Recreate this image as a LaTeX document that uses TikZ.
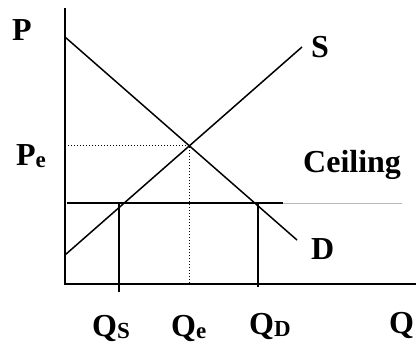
\documentclass[tikz,border=0pt]{standalone}
\usepackage{fontspec}
\setmainfont{Liberation Serif}
\usepackage{tikz}
\newcommand{\lowsub}[1]{\raisebox{-2.5pt}{\fontsize{23}{23}\selectfont #1}}

\begin{document}
\begin{tikzpicture}[
      x=1pt, y=-1pt,
      font=\fontsize{32}{32}\selectfont\bfseries,
      axis/.style={line width=2pt},
      curve/.style={line width=1.5pt},
      guide/.style={line width=1.1pt, dash pattern=on 1pt off 2pt},
      lbl/.style={inner sep=0pt, anchor=base west},
    ]
    \useasboundingbox (0,0) rectangle (416,343);

    % axes
    \coordinate (ytop) at (65,8);
    \coordinate (orig) at (65,284);
    \coordinate (xend) at (416,284);
    \draw[axis] (ytop) -- (orig) -- (xend);

    % demand and supply
    \coordinate (d0) at (65,37);
    \coordinate (d1) at (297,240);
    \coordinate (s0) at (65,255);
    \coordinate (s1) at (302,47);
    \draw[curve] (d0) -- (d1);
    \draw[curve] (s0) -- (s1);
    \coordinate (eq) at (intersection of d0--d1 and s0--s1);

    % equilibrium guides
    \coordinate (pe) at (orig |- eq);
    \coordinate (qe) at (eq |- orig);
    \draw[guide] (pe) -- (eq) -- (qe);

    % price ceiling
    \coordinate (c0) at (67,203);
    \coordinate (c1) at (283,203);
    \coordinate (c2) at (402,203);
    \draw[curve] (c0) -- (c1);
    \draw[line width=0.6pt, gray!55] (c1) -- (c2);

    % quantities at the ceiling
    \coordinate (qs0) at (119,204);
    \coordinate (qs1) at (119,292);
    \coordinate (qd0) at (258,204);
    \coordinate (qd1) at (258,287);
    \draw[curve] (qs0) -- (qs1);
    \draw[curve] (qd0) -- (qd1);

    % labels
    \node[lbl] (lp) at (12,40) {P};
    \node[lbl] (lpe) at (16,165) {P\lowsub{e}};
    \node[lbl] (ls) at (311,57) {S};
    \node[lbl] (lceil) at (303,172) {Ceiling};
    \node[lbl] (ld) at (311,259) {D};
    \node[lbl] (lqs) at (92,336) {Q\lowsub{S}};
    \node[lbl] (lqe) at (171,336) {Q\lowsub{e}};
    \node[lbl] (lqd) at (249,334) {Q\lowsub{D}};
    \node[lbl] (lq) at (389,333) {Q};
  \end{tikzpicture}
\end{document}
